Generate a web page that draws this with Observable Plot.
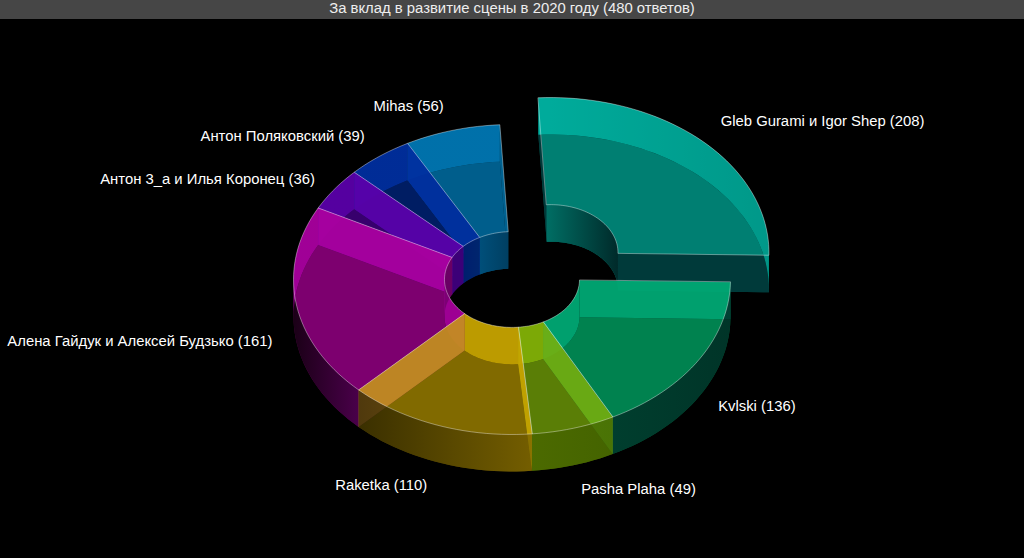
<!DOCTYPE html>
<html><head><meta charset="utf-8">
<script src="https://cdn.jsdelivr.net/npm/d3@7"></script>
<script src="https://cdn.jsdelivr.net/npm/@observablehq/plot@0.6"></script>
<style>
html,body{margin:0;padding:0;background:#000;overflow:hidden}
#title{height:19px;line-height:19px;background:#464646;color:#eee;text-align:center;font:14.85px "Liberation Sans",Arial,sans-serif}
svg{display:block}
</style></head><body>
<div id="title">За вклад в развитие сцены в 2020 году (480 ответов)</div>
<div id="chart"></div>
<script>
const names = ["Gleb Gurami и Igor Shep","Kvlski","Pasha Plaha","Raketka","Алена Гайдук и Алексей Будзько","Антон 3_а и Илья Коронец","Антон Поляковский","Mihas"];
const values = [208,136,49,110,161,36,39,56];
const bandColors = ["#00a898","#00aa75","#6fb014","#c8a400","#aa00a0","#5a00aa","#0030a0","#0078b4"];
const centralColors = ["#007f72","#008250","#5a7e00","#826a00","#7d0070","#38006e","#001e64","#005f8c"];
const frontLeft = ["#003a3a","#003e2e","#4c6a00","#3a2f00","#140014","#32006e","#002a6e","#004a72"];
const frontRight = ["#003a3a","#003428","#446400","#745e00","#4a004a","#32006e","#002a6e","#004a72"];
const innerLeft = ["#006e64","#00aa75","#6fb014","#c8a400","#6a0064","#3c0078","#001e6e","#004f7a"];
const innerRight = ["#002a2a","#00aa75","#6fb014","#c8a400","#6a0064","#3c0078","#00266e","#003f62"];
const innerThroughTop = ["#00a898","#00aa75","#8cb400","#c8a400","#a5009a","#5a00aa","#0030a0","#0078b4"];
const backWallLeft = ["#00bcab","#00aa75","#6fb014","#c8a400","#aa00a0","#5a00aa","#0030a0","#0078b4"];
const backWallRight = ["#009e8e","#00aa75","#6fb014","#c8a400","#aa00a0","#5a00aa","#0030a0","#0078b4"];
const endWallOverride = {3:"#c38232",7:"#005f8c"};
const labelNudgeX = [1,-1,0,-4,-1,-1,-1,-3];
const labelNudgeY = [-3,-4,2,1,-3,4,-2,-2];
const drawOrder = [0,7,6,5,4,1,2,3];

const innerR = 0.309, depth = 37/155, topAlpha = 0.3, frontAlpha = 0.75;
const rotation = 1 * Math.PI/180;
const explodeX = 0.176, explodeY = 0.174;
const total = d3.sum(values);
let acc = 0;
const slices = values.map((v,i)=>{
  const a1 = acc/total*2*Math.PI; acc += v; const a2 = acc/total*2*Math.PI;
  return {i, a0:a1, a1:a2};
});
// the first slice ends just past east: the second one begins at the rotation angle
const shift = -slices[1].a0 + rotation;
slices.forEach(s=>{s.a0+=shift;s.a1+=shift;});

function pt(s,r,t,z){
  const ex = s.i===0?explodeX:0, ey = s.i===0?-explodeY:0;
  return {x:r*Math.cos(t)+ex, y:r*Math.sin(t)+ey+z*depth};
}
function arcPts(s,r,t0,t1,z){
  const n=Math.max(1,Math.ceil(Math.abs(t1-t0)/(Math.PI/90))),o=[];
  for(let k=0;k<=n;k++)o.push(pt(s,r,t0+(t1-t0)*k/n,z));
  return o;
}
const sector=(s,z)=>[...arcPts(s,1,s.a0,s.a1,z),...arcPts(s,innerR,s.a1,s.a0,z)];
const curtain=(s,r,t0,t1)=>[...arcPts(s,r,t0,t1,0),...arcPts(s,r,t1,t0,1)];
const radial=(s,t)=>[pt(s,1,t,0),pt(s,innerR,t,0),pt(s,innerR,t,1),pt(s,1,t,1)];

function solve(c,under,a){ // colour that, at opacity a over "under", gives c
  const C=d3.rgb(c),U=d3.rgb(under),f=k=>Math.max(0,Math.min(255,(C[k]-(1-a)*U[k])/a));
  return d3.rgb(f("r"),f("g"),f("b")).formatHex();
}
const bottomColor=i=>{ // opaque bottom which through the top gives the central tone
  const C=d3.rgb(centralColors[i]),T=d3.rgb(bandColors[i]),f=k=>Math.max(0,Math.min(255,(C[k]-topAlpha*T[k])/(1-topAlpha)));
  return d3.rgb(f("r"),f("g"),f("b")).formatHex();
};

function splitRange(t0,t1){
  const cuts=[t0];
  for(let k=-4;k<=6;k++){const c=k*Math.PI;if(c>t0&&c<t1)cuts.push(c);}
  cuts.push(t1);
  return d3.pairs(cuts);
}

const gradients=[];
const gradient=(id,l,r)=>{gradients.push({id,l,r});return `url(#${id})`;};
const marks=[];
const poly=(points,fill,opt={})=>marks.push(Plot.line(points,{x:"x",y:"y",curve:"linear-closed",fill,stroke:"none",...opt}));
const edge={stroke:"#fff",strokeOpacity:0.48,strokeWidth:0.8};

for(const i of drawOrder){
  const s=slices[i], T=bandColors[i], B=bottomColor(i);
  poly(sector(s,1),B);
  const startBack=Math.cos(s.a0)>0, endBack=Math.cos(s.a1)<0;
  const directWall=solve(frontRight[i],B,frontAlpha);
  const frontG=gradient(`f${i}`,solve(frontLeft[i],B,frontAlpha),directWall);
  if(!startBack) poly(radial(s,s.a0),directWall,{fillOpacity:frontAlpha});
  if(!endBack) poly(radial(s,s.a1),directWall,{fillOpacity:frontAlpha});
  if(startBack) poly(radial(s,s.a0),T,{fillOpacity:0.92});
  if(endBack) poly(radial(s,s.a1),endWallOverride[i]||T,{fillOpacity:0.92});
  splitRange(s.a0,s.a1).forEach(([a,b],k)=>{
    const front=Math.sin((a+b)/2)>0;
    if(front) poly(curtain(s,innerR,a,b),innerThroughTop[i],{fillOpacity:0.92});
    else poly(curtain(s,innerR,a,b),gradient(`i${i}_${k}`,innerLeft[i],innerRight[i]));
  });
  splitRange(s.a0,s.a1).forEach(([a,b],k)=>{
    const front=Math.sin((a+b)/2)>0;
    if(front) poly(curtain(s,1,a,b),frontG,{fillOpacity:frontAlpha});
    else poly(curtain(s,1,a,b),gradient(`b${i}_${k}`,backWallLeft[i],backWallRight[i]),{fillOpacity:0.92});
  });
  poly(sector(s,0),T,{fillOpacity:topAlpha,...edge});
}

const lx=1.11, ly=1.15;
const font={fontFamily:"Liberation Sans, Arial, sans-serif",fontSize:14.85,fill:"#fff",text:"text",x:"x",y:"y"};
slices.forEach(s=>{
  const m=(s.a0+s.a1)/2, sn=Math.sin(m), cs=Math.cos(m), p=pt(s,1,m,0);
  marks.push(Plot.text([{text:`${names[s.i]} (${values[s.i]})`,
    x:lx*cs+(p.x-cs), y:ly*sn+(p.y-sn)+(sn>0?depth:0)}],
    {...font,textAnchor:cs>0?"start":"end",dx:labelNudgeX[s.i]+1,dy:labelNudgeY[s.i]}));
});

const chart=Plot.plot({
  width:1024,height:539,margin:0,
  style:{background:"#000"},
  x:{axis:null,domain:[-1,1],range:[293,730]},
  y:{axis:null,domain:[-1,1],range:[105,415]},
  marks
});
const defs=d3.select(chart).insert("svg:defs",":first-child");
for(const g of gradients){
  const lg=defs.append("linearGradient").attr("id",g.id).attr("x1",0).attr("x2",1).attr("y1",0).attr("y2",0);
  lg.append("stop").attr("offset",0).attr("stop-color",g.l);
  lg.append("stop").attr("offset",1).attr("stop-color",g.r);
}
document.getElementById("chart").append(chart);
</script>
</body></html>
